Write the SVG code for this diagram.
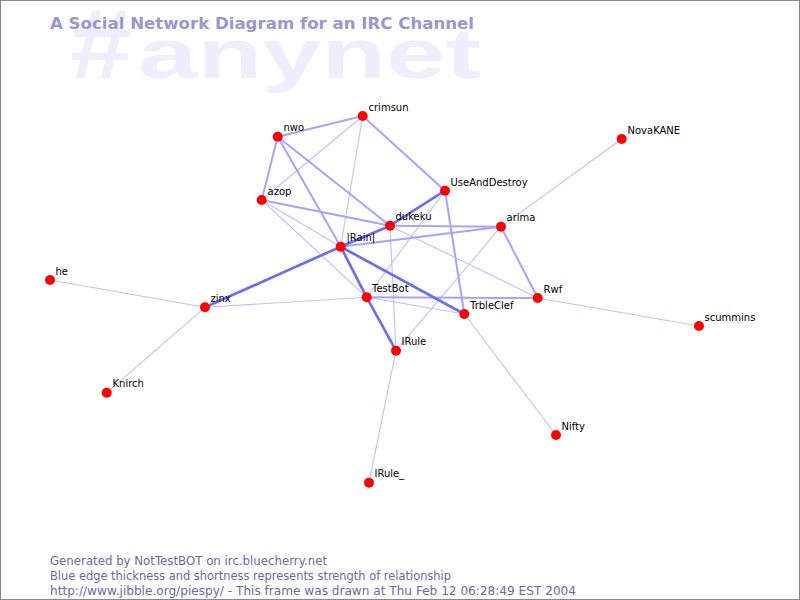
<svg xmlns="http://www.w3.org/2000/svg" width="800" height="600" viewBox="0 0 800 600">
<style>
.e1{stroke:#c0c0ff;stroke-width:1.1;fill:none}
.e2{stroke:#a4a4ff;stroke-width:2;fill:none}
.e3{stroke:#6e6ef2;stroke-width:2.7;fill:none}
.n circle{fill:#ff0000}
.n text{font-family:"DejaVu Sans",Verdana,sans-serif;font-size:10px;fill:#000}
.foot{font-family:"DejaVu Sans",Verdana,sans-serif;font-size:11.5px;fill:#6a6a9e}
.wm{font-family:"Liberation Sans",Arial,sans-serif;font-weight:bold;fill:#eeeeff}
</style>
<rect x="0" y="0" width="800" height="600" fill="#ffffff"/>
<rect x="0.5" y="0.5" width="799" height="599" fill="none" stroke="#888888" stroke-width="1"/>
<text class="wm" x="70" y="78" font-size="98" textLength="62" lengthAdjust="spacingAndGlyphs">#</text>
<text class="wm" x="138" y="78" font-size="70" textLength="343" lengthAdjust="spacingAndGlyphs">anynet</text>
<text x="50" y="29" font-family="'DejaVu Sans',Verdana,sans-serif" font-weight="bold" font-size="16" fill="#9898cc" textLength="424" lengthAdjust="spacingAndGlyphs">A Social Network Diagram for an IRC Channel</text>
<g id="connectors">
<line class="e1" x1="362.7" y1="116" x2="261.7" y2="200"/>
<line class="e1" x1="362.7" y1="116" x2="340.7" y2="246.7"/>
<line class="e1" x1="261.7" y1="200" x2="366.7" y2="297.3"/>
<line class="e1" x1="261.7" y1="200" x2="340.7" y2="246.7"/>
<line class="e1" x1="445" y1="190.7" x2="366.7" y2="297.3"/>
<line class="e1" x1="390" y1="225.7" x2="396" y2="350.7"/>
<line class="e1" x1="501" y1="226.7" x2="396" y2="350.7"/>
<line class="e1" x1="390" y1="225.7" x2="537.7" y2="298"/>
<line class="e1" x1="366.7" y1="297.3" x2="464.3" y2="314"/>
<line class="e1" x1="205" y1="307.3" x2="366.7" y2="297.3"/>
<line class="e1" x1="50" y1="280" x2="205" y2="307.3"/>
<line class="e1" x1="106.7" y1="392.7" x2="205" y2="307.3"/>
<line class="e1" x1="501" y1="226.7" x2="621.7" y2="139"/>
<line class="e1" x1="537.7" y1="298" x2="699" y2="326"/>
<line class="e1" x1="464.3" y1="314" x2="556" y2="435"/>
<line class="e1" x1="396" y1="350.7" x2="369" y2="482.7"/>
<line class="e2" x1="277.7" y1="136.7" x2="362.7" y2="116"/>
<line class="e2" x1="277.7" y1="136.7" x2="261.7" y2="200"/>
<line class="e2" x1="277.7" y1="136.7" x2="340.7" y2="246.7"/>
<line class="e2" x1="277.7" y1="136.7" x2="390" y2="225.7"/>
<line class="e2" x1="362.7" y1="116" x2="445" y2="190.7"/>
<line class="e2" x1="261.7" y1="200" x2="390" y2="225.7"/>
<line class="e2" x1="390" y1="225.7" x2="501" y2="226.7"/>
<line class="e2" x1="340.7" y1="246.7" x2="501" y2="226.7"/>
<line class="e2" x1="501" y1="226.7" x2="537.7" y2="298"/>
<line class="e2" x1="445" y1="190.7" x2="464.3" y2="314"/>
<line class="e2" x1="366.7" y1="297.3" x2="537.7" y2="298"/>
<line class="e3" x1="340.7" y1="246.7" x2="205" y2="307.3"/>
<line class="e3" x1="445" y1="190.7" x2="390" y2="225.7"/>
<line class="e3" x1="390" y1="225.7" x2="340.7" y2="246.7"/>
<line class="e3" x1="340.7" y1="246.7" x2="366.7" y2="297.3"/>
<line class="e3" x1="366.7" y1="297.3" x2="396" y2="350.7"/>
<line class="e3" x1="340.7" y1="246.7" x2="464.3" y2="314"/>
</g>
<g id="crimsun" class="n"><circle cx="362.7" cy="116" r="5"/><text x="368.5" y="110.5">crimsun</text></g>
<g id="nwo" class="n"><circle cx="277.7" cy="136.7" r="5"/><text x="283.5" y="131">nwo</text></g>
<g id="azop" class="n"><circle cx="261.7" cy="200" r="5"/><text x="267.5" y="194.5">azop</text></g>
<g id="UseAndDestroy" class="n"><circle cx="445" cy="190.7" r="5"/><text x="450.5" y="185.5">UseAndDestroy</text></g>
<g id="dukeku" class="n"><circle cx="390" cy="225.7" r="5"/><text x="395.5" y="220">dukeku</text></g>
<g id="arima" class="n"><circle cx="501" cy="226.7" r="5"/><text x="506.5" y="221">arima</text></g>
<g id="Rain" class="n"><circle cx="340.7" cy="246.7" r="5"/><text x="346.5" y="241">|Rain|</text></g>
<g id="TestBot" class="n"><circle cx="366.7" cy="297.3" r="5"/><text x="372" y="292">TestBot</text></g>
<g id="zinx" class="n"><circle cx="205" cy="307.3" r="5"/><text x="210.5" y="302">zinx</text></g>
<g id="TrbleClef" class="n"><circle cx="464.3" cy="314" r="5"/><text x="470" y="308.5">TrbleClef</text></g>
<g id="Rwf" class="n"><circle cx="537.7" cy="298" r="5"/><text x="543.5" y="292.5">Rwf</text></g>
<g id="IRule" class="n"><circle cx="396" cy="350.7" r="5"/><text x="401.5" y="345">IRule</text></g>
<g id="he" class="n"><circle cx="50" cy="280" r="5"/><text x="55.5" y="274.5">he</text></g>
<g id="Knirch" class="n"><circle cx="106.7" cy="392.7" r="5"/><text x="112.5" y="387">Knirch</text></g>
<g id="NovaKANE" class="n"><circle cx="621.7" cy="139" r="5"/><text x="627.5" y="133.5">NovaKANE</text></g>
<g id="scummins" class="n"><circle cx="699" cy="326" r="5"/><text x="704.5" y="320.5">scummins</text></g>
<g id="Nifty" class="n"><circle cx="556" cy="435" r="5"/><text x="561.5" y="429.5">Nifty</text></g>
<g id="IRule_" class="n"><circle cx="369" cy="482.7" r="5"/><text x="374.5" y="477">IRule_</text></g>
<text class="foot" x="50" y="565" textLength="277" lengthAdjust="spacingAndGlyphs">Generated by NotTestBOT on irc.bluecherry.net</text>
<text class="foot" x="50" y="580" textLength="401" lengthAdjust="spacingAndGlyphs">Blue edge thickness and shortness represents strength of relationship</text>
<text class="foot" x="50" y="595" textLength="526" lengthAdjust="spacingAndGlyphs">http://www.jibble.org/piespy/ - This frame was drawn at Thu Feb 12 06:28:49 EST 2004</text>
</svg>
